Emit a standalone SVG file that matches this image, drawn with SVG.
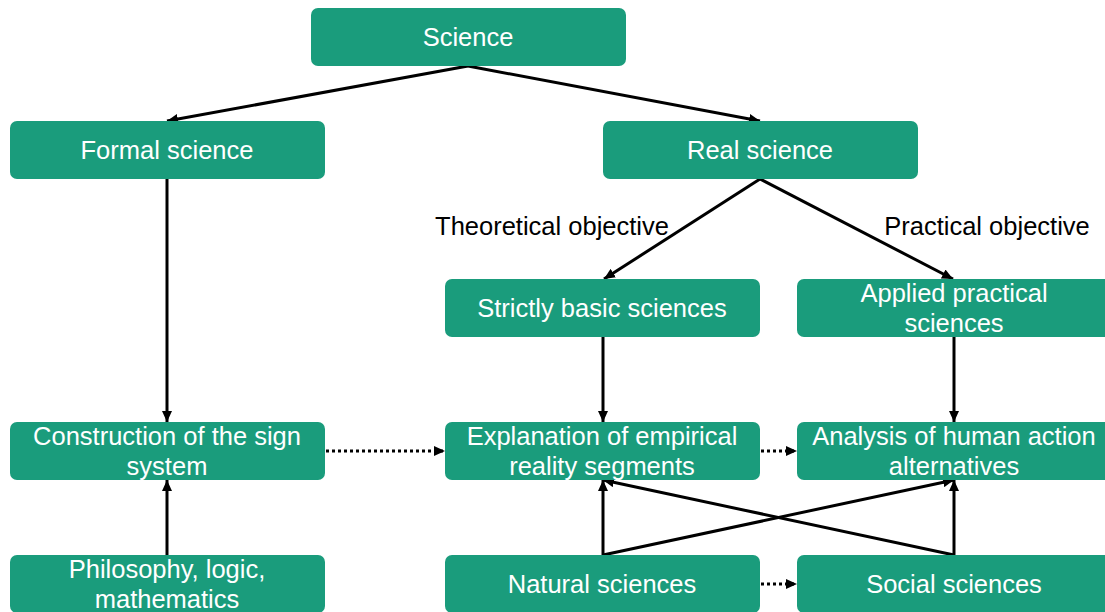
<svg xmlns="http://www.w3.org/2000/svg" width="1105" height="612" viewBox="0 0 1105 612">
  <style>
    .box { fill: #1a9c7c; }
    .lbl { font-family: "Liberation Sans", Arial, sans-serif; font-size: 25.5px; fill: #ffffff; text-anchor: middle; }
    .note { font-family: "Liberation Sans", Arial, sans-serif; font-size: 25.5px; fill: #000000; text-anchor: middle; }
    .edge { stroke: #000000; stroke-width: 3; fill: none; marker-end: url(#arrow); }
    .dot { stroke: #000000; stroke-width: 3; fill: none; stroke-dasharray: 3 3; marker-end: url(#arrow); }
  </style>
  <defs>
    <marker id="arrow" markerUnits="userSpaceOnUse" markerWidth="12" markerHeight="10" refX="11" refY="5" orient="auto">
      <path d="M0,0 L11,5 L0,10 Z" fill="#000000"/>
    </marker>
  </defs>
  <rect width="1105" height="612" fill="#ffffff"/>

  <!-- connectors -->
  <g id="connectors">
    <line class="edge" x1="468" y1="66" x2="167" y2="121"/>
    <line class="edge" x1="468" y1="66" x2="760" y2="121"/>
    <line class="edge" x1="167" y1="179" x2="167" y2="422"/>
    <line class="edge" x1="760" y1="179" x2="604" y2="279"/>
    <line class="edge" x1="760" y1="179" x2="953" y2="279"/>
    <line class="edge" x1="603" y1="337" x2="603" y2="422"/>
    <line class="edge" x1="954" y1="337" x2="954" y2="422"/>
    <line class="edge" x1="167" y1="555" x2="167" y2="480"/>
    <line class="edge" x1="603" y1="555" x2="603" y2="480"/>
    <line class="edge" x1="603" y1="555" x2="954" y2="480"/>
    <line class="edge" x1="954" y1="555" x2="954" y2="480"/>
    <line class="edge" x1="954" y1="555" x2="603" y2="480"/>
    <line class="dot" x1="326" y1="451" x2="445" y2="451"/>
    <line class="dot" x1="761" y1="451" x2="797" y2="451"/>
    <line class="dot" x1="761" y1="584" x2="797" y2="584"/>
  </g>

  <!-- edge labels -->
  <text class="note" x="552" y="235">Theoretical objective</text>
  <text class="note" x="987" y="235">Practical objective</text>

  <!-- nodes -->
  <g id="science">
    <rect class="box" x="311" y="8" width="315" height="58" rx="7"/>
    <text class="lbl" x="468" y="46">Science</text>
  </g>
  <g id="formal-science">
    <rect class="box" x="10" y="121" width="315" height="58" rx="7"/>
    <text class="lbl" x="167" y="159">Formal science</text>
  </g>
  <g id="real-science">
    <rect class="box" x="603" y="121" width="315" height="58" rx="7"/>
    <text class="lbl" x="760" y="159">Real science</text>
  </g>
  <g id="basic-sciences">
    <rect class="box" x="445" y="279" width="315" height="58" rx="7"/>
    <text class="lbl" x="602" y="317">Strictly basic sciences</text>
  </g>
  <g id="applied-sciences">
    <rect class="box" x="797" y="279" width="315" height="58" rx="7"/>
    <text class="lbl" x="954" y="302">Applied practical</text>
    <text class="lbl" x="954" y="332">sciences</text>
  </g>
  <g id="sign-system">
    <rect class="box" x="10" y="422" width="315" height="58" rx="7"/>
    <text class="lbl" x="167" y="445">Construction of the sign</text>
    <text class="lbl" x="167" y="475">system</text>
  </g>
  <g id="explanation">
    <rect class="box" x="445" y="422" width="315" height="58" rx="7"/>
    <text class="lbl" x="602" y="445">Explanation of empirical</text>
    <text class="lbl" x="602" y="475">reality segments</text>
  </g>
  <g id="analysis">
    <rect class="box" x="797" y="422" width="315" height="58" rx="7"/>
    <text class="lbl" x="954" y="445">Analysis of human action</text>
    <text class="lbl" x="954" y="475">alternatives</text>
  </g>
  <g id="philosophy">
    <rect class="box" x="10" y="555" width="315" height="58" rx="7"/>
    <text class="lbl" x="167" y="578">Philosophy, logic,</text>
    <text class="lbl" x="167" y="608">mathematics</text>
  </g>
  <g id="natural-sciences">
    <rect class="box" x="445" y="555" width="315" height="58" rx="7"/>
    <text class="lbl" x="602" y="593">Natural sciences</text>
  </g>
  <g id="social-sciences">
    <rect class="box" x="797" y="555" width="315" height="58" rx="7"/>
    <text class="lbl" x="954" y="593">Social sciences</text>
  </g>
</svg>
